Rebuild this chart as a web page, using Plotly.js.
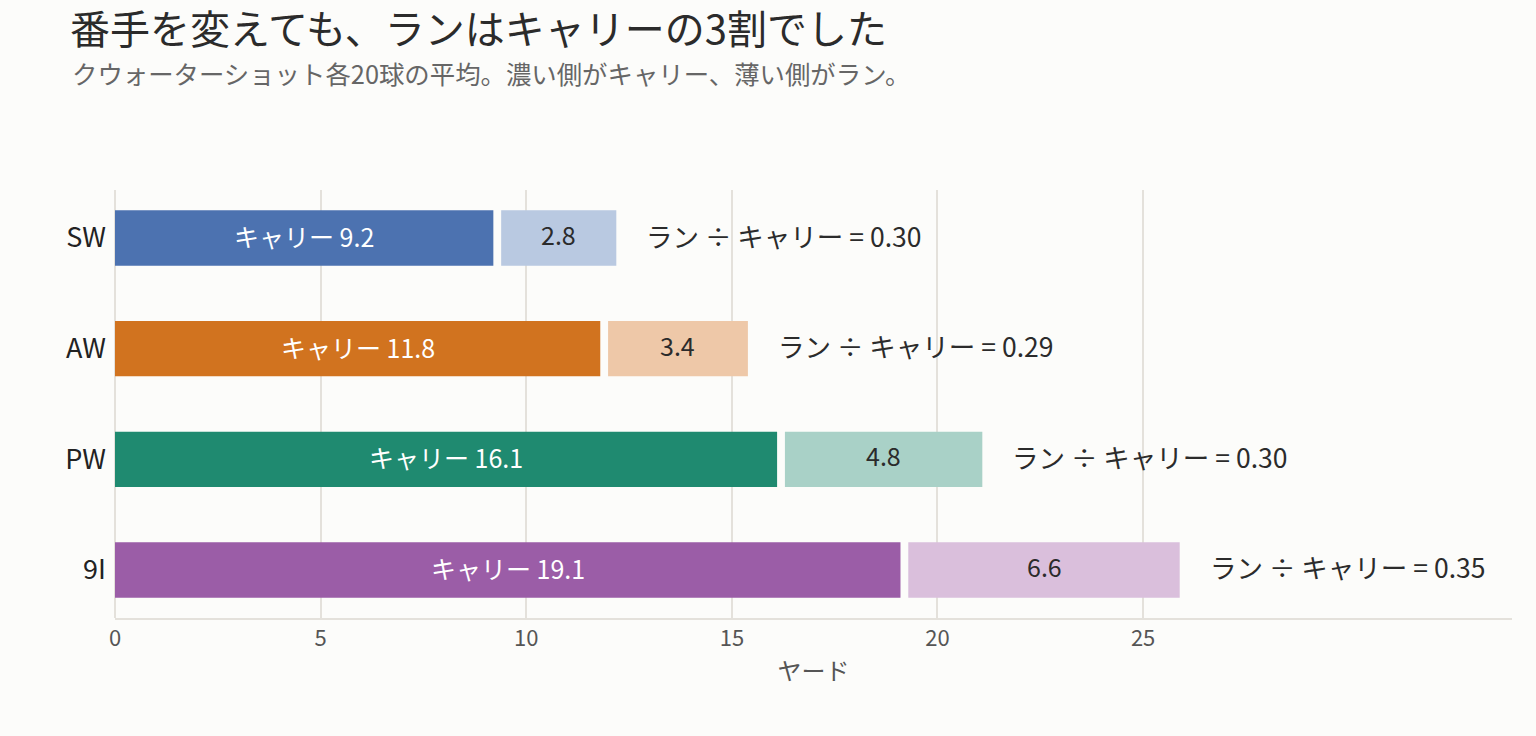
<!DOCTYPE html>
<html>
<head>
<meta charset="utf-8">
<script src="https://cdn.plot.ly/plotly-3.0.1.min.js"></script>
<style>
  html, body { margin: 0; padding: 0; background: #fcfcfa; }
  #chart { width: 1536px; height: 736px; }
</style>
</head>
<body>
<div id="chart"></div>
<script>
// 番手ごとのキャリーとラン（ヤード）
const clubs = ['SW', 'AW', 'PW', '9I'];
const carry = [9.2, 11.8, 16.1, 19.1];
const run = [2.8, 3.4, 4.8, 6.6];

const darkColors = ['#4c72b0', '#d1731f', '#1f8a70', '#9b5da7'];
const lightColors = ['#b9c9e1', '#eec8a8', '#a9d1c7', '#dabfdc'];

const GAP = 0.19; // キャリーとランの間のすき間
const FONT = '"Noto Sans CJK JP", "Noto Sans", sans-serif';

const runBase = carry.map(c => c + GAP);
const totals = carry.map((c, i) => c + GAP + run[i]);

const carryTrace = {
    type: 'bar',
    orientation: 'h',
    y: clubs,
    x: carry,
    base: 0,
    width: 0.5,
    marker: { color: darkColors },
    hoverinfo: 'skip',
};

const runTrace = {
    type: 'bar',
    orientation: 'h',
    y: clubs,
    x: run,
    base: runBase,
    width: 0.5,
    marker: { color: lightColors },
    hoverinfo: 'skip',
};

// バーの中のラベル
const carryLabels = clubs.map((c, i) => ({
    x: carry[i] / 2, y: c, xref: 'x', yref: 'y',
    text: 'キャリー ' + carry[i].toFixed(1),
    showarrow: false, yshift: 2,
    font: { family: FONT, size: 25, color: '#ffffff' },
}));

const runLabels = clubs.map((c, i) => ({
    x: runBase[i] + run[i] / 2, y: c, xref: 'x', yref: 'y',
    text: run[i].toFixed(1),
    showarrow: false, yshift: 4,
    font: { family: FONT, size: 25, color: '#2b2b2b' },
}));

const ratioNotes = clubs.map((c, i) => ({
    x: totals[i],
    y: c,
    xref: 'x',
    yref: 'y',
    text: 'ラン ÷ キャリー = ' + (run[i] / carry[i]).toFixed(2),
    showarrow: false,
    xanchor: 'left',
    xshift: 28,
    yshift: 3,
    font: { family: FONT, size: 26.5, color: '#2b2b2b' },
}));

const layout = {
    width: 1536,
    height: 736,
    paper_bgcolor: '#fcfcfa',
    plot_bgcolor: '#fcfcfa',
    margin: { l: 115, r: 24, t: 190, b: 118 },
    barmode: 'overlay',
    showlegend: false,
    font: { family: FONT },
    title: {
        text: '番手を変えても、ランはキャリーの3割でした',
        font: { family: FONT, size: 40, color: '#2b2b2b' },
        xref: 'container', x: 70 / 1536, xanchor: 'left',
        yref: 'container', y: 1 - 30 / 736, yanchor: 'middle',
    },
    xaxis: {
        range: [0, 33.97],
        tickvals: [0, 5, 10, 15, 20, 25],
        showgrid: true,
        gridcolor: '#e4e1db',
        gridwidth: 2,
        zeroline: true,
        zerolinecolor: '#e4e1db',
        zerolinewidth: 2,
        showline: true,
        linecolor: '#e4e1db',
        linewidth: 2,
        ticks: '',
        tickfont: { family: FONT, size: 22, color: '#555555' },
        title: { text: 'ヤード', font: { family: FONT, size: 24, color: '#555555' }, standoff: 12 },
    },
    yaxis: {
        range: [3.434, -0.434],
        showgrid: false,
        zeroline: false,
        showline: false,
        ticks: '',
        ticklabelstandoff: 8,
        tickfont: { family: FONT, size: 27, color: '#222222' },
    },
    annotations: [
        {
            x: -0.0322, y: 1.274, xref: 'paper', yref: 'paper',
            xanchor: 'left', yanchor: 'middle', showarrow: false,
            text: 'クウォーターショット各20球の平均。濃い側がキャリー、薄い側がラン。',
            font: { family: FONT, size: 25.4, color: '#666666' },
        },
    ].concat(carryLabels, runLabels, ratioNotes),
};

Plotly.newPlot('chart', [carryTrace, runTrace], layout, { displayModeBar: false, staticPlot: true });
</script>
</body>
</html>
